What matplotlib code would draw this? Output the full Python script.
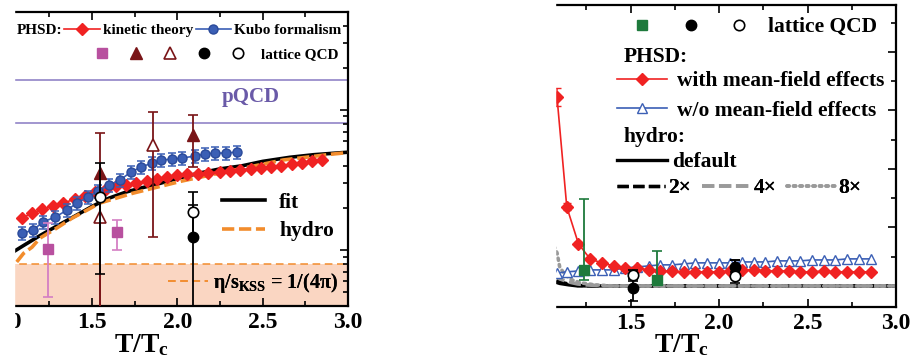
import numpy as np
import matplotlib
matplotlib.use('Agg')
import matplotlib.pyplot as plt
from matplotlib.lines import Line2D
from matplotlib.legend_handler import HandlerTuple
from matplotlib.patches import Rectangle
from matplotlib.ticker import MultipleLocator, LogLocator, NullFormatter

plt.rcParams['font.family'] = ['Liberation Serif', 'DejaVu Serif']
plt.rcParams['font.weight'] = 'bold'
plt.rcParams['mathtext.fontset'] = 'custom'
plt.rcParams['mathtext.rm'] = 'Liberation Serif:bold'
plt.rcParams['mathtext.it'] = 'Liberation Serif:bold:italic'
plt.rcParams['mathtext.bf'] = 'Liberation Serif:bold'

# ---------------- data: left panel (eta/s) ----------------
kin_T = [1.09, 1.15, 1.21, 1.27, 1.33, 1.40, 1.46, 1.52, 1.58, 1.64, 1.70, 1.76, 1.82, 1.88, 1.94,
         2.00, 2.06, 2.12, 2.18, 2.25, 2.31, 2.37, 2.43, 2.49, 2.55, 2.61, 2.67, 2.73, 2.79, 2.85]
kin_eta = [0.169, 0.184, 0.196, 0.206, 0.217, 0.231, 0.243, 0.259, 0.273, 0.286, 0.292, 0.300, 0.310,
           0.320, 0.332, 0.342, 0.347, 0.352, 0.357, 0.363, 0.369, 0.375, 0.381, 0.388, 0.394, 0.400,
           0.410, 0.420, 0.430, 0.440]
kubo_T = [1.091, 1.155, 1.213, 1.284, 1.354, 1.412, 1.477, 1.535, 1.600, 1.664, 1.728, 1.787, 1.851,
          1.904, 1.968, 2.026, 2.102, 2.161, 2.219, 2.284, 2.348]
kubo_eta = [0.132, 0.139, 0.159, 0.172, 0.193, 0.217, 0.239, 0.264, 0.291, 0.316, 0.361, 0.391, 0.418,
            0.439, 0.446, 0.454, 0.469, 0.485, 0.493, 0.493, 0.501]
kubo_relerr = 0.11

fit_T = [1.0, 1.044, 1.1, 1.2, 1.3, 1.4, 1.5, 1.6, 1.7, 1.8, 1.9, 2.0, 2.13, 2.25, 2.38, 2.5, 2.66, 2.8, 3.0]
fit_eta = [0.090, 0.098, 0.108, 0.128, 0.150, 0.175, 0.205, 0.235, 0.260, 0.280, 0.300, 0.325, 0.355,
           0.380, 0.400, 0.430, 0.460, 0.480, 0.500]
hyd_T = [1.0, 1.044, 1.1, 1.149, 1.196, 1.295, 1.383, 1.471, 1.547, 1.74, 2.03, 2.32, 2.62, 2.91, 3.0]
hyd_eta = [0.066, 0.078, 0.095, 0.105, 0.122, 0.144, 0.169, 0.193, 0.217, 0.255, 0.312, 0.370, 0.440,
           0.485, 0.497]

kss = 1.0 / (4.0 * np.pi)
pqcd_lines = [0.81, 1.64]

# lattice QCD (left)
lq_sq_T, lq_sq_v, lq_sq_lo, lq_sq_hi = [1.243, 1.646], [0.102, 0.134], [0.046, 0.100], [0.156, 0.164]
lq_ft_T, lq_ft_v, lq_ft_lo, lq_ft_hi = [1.55, 2.09], [0.355, 0.660], [0.02, 0.39], [0.68, 0.92]
lq_ot_T, lq_ot_v, lq_ot_lo, lq_ot_hi = [1.55, 1.86], [0.172, 0.562], [0.02, 0.124], [0.24, 0.968]
lq_fc_T, lq_fc_v, lq_fc_lo, lq_fc_hi = [2.09], [0.124], [0.02], [0.21]
lq_oc_T, lq_oc_v, lq_oc_lo, lq_oc_hi = [1.55, 2.09], [0.239, 0.187], [0.068, 0.124], [0.418, 0.262]

# ---------------- data: right panel (zeta/s) ----------------
phsd_T = [1.085, 1.14, 1.206, 1.272, 1.338, 1.404, 1.47, 1.536, 1.602, 1.668, 1.734, 1.80, 1.866, 1.932,
          1.998, 2.064, 2.13, 2.196, 2.262, 2.328, 2.394, 2.46, 2.526, 2.592, 2.658, 2.724, 2.79, 2.856]
mf_zeta = [0.161, 0.0675, 0.036, 0.023, 0.0197, 0.0171, 0.0154, 0.0154, 0.0137, 0.0128, 0.0128, 0.012,
           0.012, 0.012, 0.012, 0.0128, 0.0137, 0.0137, 0.0128, 0.0128, 0.0128, 0.012, 0.012, 0.0128,
           0.012, 0.012, 0.012, 0.012]
mf_err = [0.0077, 0.003, 0.0015, 0, 0, 0, 0, 0, 0, 0, 0, 0, 0, 0, 0, 0, 0, 0, 0, 0, 0, 0, 0, 0, 0, 0, 0, 0]
nomf_zeta = [0.0111, 0.012, 0.0128, 0.0137, 0.0137, 0.0137, 0.0154, 0.0162, 0.0171, 0.018, 0.018, 0.0188,
             0.0197, 0.0197, 0.0197, 0.0197, 0.0205, 0.0205, 0.0205, 0.0214, 0.0214, 0.0214, 0.0222,
             0.0222, 0.0222, 0.0231, 0.0231, 0.0231]

h_def_T = [1.0, 1.073, 1.1, 1.15, 1.2, 1.3, 1.6, 2.0, 2.5, 3.0]
h_def_z = [0.006, 0.0034, 0.0021, 0.0009, 0.0, 0.0, 0.0, 0.0, 0.0, 0.0]
h_2x_T = [1.0, 1.073, 1.1, 1.15, 1.2, 1.3, 1.6, 2.0, 2.5, 3.0]
h_2x_z = [0.010, 0.0051, 0.0034, 0.0017, 0.0004, 0.0, 0.0, 0.0, 0.0, 0.0]
h_4x_T = [1.0, 1.073, 1.1, 1.15, 1.2, 1.25, 1.35, 1.6, 2.0, 2.5, 3.0]
h_4x_z = [0.02, 0.0086, 0.006, 0.0034, 0.0017, 0.0009, 0.0, 0.0, 0.0, 0.0, 0.0]
h_8x_T = [1.0, 1.073, 1.085, 1.1, 1.13, 1.17, 1.22, 1.3, 1.4, 1.6, 2.0, 2.5, 3.0]
h_8x_z = [0.06, 0.032, 0.0282, 0.0162, 0.0094, 0.0051, 0.0026, 0.0009, 0.0, 0.0, 0.0, 0.0, 0.0]

lz_sq_T, lz_sq_v, lz_sq_lo, lz_sq_hi = [1.24, 1.65], [0.0137, 0.0051], [0.005, 0.001], [0.0744, 0.030]
lz_fc_T, lz_fc_v, lz_fc_lo, lz_fc_hi = [1.515, 2.09], [-0.0017, 0.016], [-0.0128, 0.012], [0.004, 0.0222]
lz_oc_T, lz_oc_v, lz_oc_lo, lz_oc_hi = [1.515, 2.09], [0.0094, 0.0086], [0.006, 0.0026], [0.0135, 0.0222]

# ---------------- figure ----------------
W, H = 924, 363
fig = plt.figure(figsize=(W / 100, H / 100), dpi=100)


def px_axes(x0, x1, y0, y1):
    return fig.add_axes([x0 / W, 1 - y1 / H, (x1 - x0) / W, (y1 - y0) / H])


RED = '#f02222'
BLUE = '#3b5fb5'
ORANGE = '#f28c2c'
PEACH = '#fad6c2'
MAG = '#b8509f'
MAGBAR = '#d47fc4'
DRED = '#7a1518'
PURP = '#6a5aa8'
PURPL = '#9a8dcc'
GREEN = '#1e7a3c'
GRAY = '#9a9a9a'

TICKFS = 17


def style_axes(ax):
    for s in ax.spines.values():
        s.set_linewidth(1.6)
    ax.spines['left'].set_visible(False)
    ax.tick_params(which='both', direction='in', top=True, right=True, left=False, width=1.2,
                   labelsize=TICKFS, pad=4)
    ax.tick_params(which='major', length=6)
    ax.tick_params(which='minor', length=3.5)
    ax.xaxis.set_major_locator(MultipleLocator(0.5))
    ax.xaxis.set_minor_locator(MultipleLocator(0.25))
    ax.xaxis.set_major_formatter(matplotlib.ticker.FormatStrFormatter('%.1f'))
    ax.tick_params(axis='y', labelleft=False, labelright=False)


def err_pts(ax, T, v, lo, hi, **kw):
    yerr = [[a - b for a, b in zip(v, lo)], [b - a for a, b in zip(v, hi)]]
    return ax.errorbar(T, v, yerr=yerr, ls='none', capsize=3.5, elinewidth=1.3, capthick=1.2, **kw)


# ======== left panel ========
axL = px_axes(6.5, 348, 12, 306)
axL.set_yscale('log')
axL.set_xlim(1.0, 3.0)
axL.set_ylim(0.04, 5.0)
style_axes(axL)
axL.yaxis.set_major_locator(LogLocator(base=10, numticks=10))
axL.yaxis.set_minor_locator(LogLocator(base=10, subs=np.arange(2, 10), numticks=50))
axL.yaxis.set_minor_formatter(NullFormatter())
axL.yaxis.set_major_formatter(NullFormatter())

axL.axhspan(0.01, kss, color=PEACH, lw=0, zorder=0)
axL.axhline(kss, color=ORANGE, lw=1.1, ls=(0, (5, 3)), zorder=1)
for v in pqcd_lines:
    axL.axhline(v, color=PURPL, lw=1.3, zorder=1)
axL.text(2.43, 1.24, 'pQCD', color=PURP, fontsize=15, fontweight='bold', ha='center', va='center')

axL.plot(fit_T, fit_eta, color='black', lw=2.6, zorder=3)
axL.plot(hyd_T, hyd_eta, color=ORANGE, lw=2.6, dashes=(3.4, 1.3), zorder=4)

kin_line, = axL.plot(kin_T, kin_eta, color=RED, lw=1.2, marker='D', ms=6, mec=RED, zorder=5)
kubo_err = [kubo_relerr * v for v in kubo_eta]
axL.errorbar(kubo_T, kubo_eta, yerr=kubo_err, color=BLUE, lw=1.2, marker='o', ms=6.5, mec='#2a4a9a',
             capsize=3, elinewidth=1.1, capthick=1.1, zorder=6)
kubo_line = Line2D([], [], color=BLUE, lw=1.2, marker='o', ms=6.5, mec='#2a4a9a')

err_pts(axL, lq_sq_T, lq_sq_v, lq_sq_lo, lq_sq_hi, marker='s', ms=7, color=MAG, ecolor=MAGBAR, zorder=7)
err_pts(axL, lq_ft_T, lq_ft_v, lq_ft_lo, lq_ft_hi, marker='^', ms=8.5, color=DRED, zorder=7)
err_pts(axL, lq_ot_T, lq_ot_v, lq_ot_lo, lq_ot_hi, marker='^', ms=8.5, color=DRED, mfc='white', mew=1.2, zorder=7)
err_pts(axL, lq_oc_T, lq_oc_v, lq_oc_lo, lq_oc_hi, marker='o', ms=7.5, color='black', mfc='white', mew=1.2, zorder=8)
err_pts(axL, lq_fc_T, lq_fc_v, lq_fc_lo, lq_fc_hi, marker='o', ms=7.5, color='black', zorder=8)

axL.set_xlabel(r'$\mathrm{T/T_c}$', fontsize=20)
axL.xaxis.set_label_coords(0.394, -0.09)


def lx(px):
    return (px - 6.5) / 341.5


def ly(py):
    return (306 - py) / 294


LFS = 11
axL.text(lx(17), ly(30), 'PHSD:', fontsize=LFS, fontweight='bold', ha='left', va='center',
         transform=axL.transAxes)
lg1 = axL.legend([kin_line, kubo_line], ['kinetic theory', 'Kubo formalism'], ncol=2, loc='center left',
                 bbox_to_anchor=(lx(64), ly(30)), frameon=False, fontsize=LFS, handlelength=2.35,
                 handletextpad=0.2, columnspacing=0.15, borderpad=0, borderaxespad=0)
axL.add_artist(lg1)

h_sq = Line2D([], [], ls='none', marker='s', ms=7, color=MAG)
h_ft = Line2D([], [], ls='none', marker='^', ms=8.5, color=DRED)
h_ot = Line2D([], [], ls='none', marker='^', ms=8.5, color=DRED, mfc='white', mew=1.2)
h_fc = Line2D([], [], ls='none', marker='o', ms=7.5, color='black')
h_oc = Line2D([], [], ls='none', marker='o', ms=7.5, color='black', mfc='white', mew=1.2)
lg2 = axL.legend([(h_sq, h_ft, h_ot, h_fc, h_oc)], ['lattice QCD'], loc='center left',
                 bbox_to_anchor=(lx(85), ly(54)), frameon=False, fontsize=LFS, handlelength=11.1,
                 handletextpad=0.45, borderpad=0, borderaxespad=0, numpoints=1,
                 handler_map={tuple: HandlerTuple(ndivide=None, pad=0)})
axL.add_artist(lg2)

FFS = 15.5
h_fit = Line2D([], [], color='black', lw=2.6)
h_hyd = Line2D([], [], color=ORANGE, lw=2.6, dashes=(3.4, 1.3))
lg3 = axL.legend([h_fit, h_hyd], ['fit', 'hydro'], loc='center left', bbox_to_anchor=(lx(222), ly(217)),
                 frameon=False, fontsize=FFS, handlelength=2.0, handletextpad=0.65, labelspacing=0.4,
                 borderpad=0, borderaxespad=0)
axL.add_artist(lg3)

h_kss = Line2D([], [], color=ORANGE, lw=1.1, ls=(0, (5, 3)))
lg4 = axL.legend([h_kss], [r'$\mathrm{\eta/s_{KSS}}$ = 1/(4$\mathrm{\pi}$)'], loc='center left',
                 bbox_to_anchor=(lx(168), ly(283)), frameon=False, fontsize=14.5, handlelength=2.0,
                 handletextpad=0.25, borderpad=0, borderaxespad=0)
axL.add_artist(lg4)

# ======== right panel ========
axR = px_axes(542, 896, 5, 307)
axR.set_xlim(1.0, 3.0)
axR.set_ylim(-0.018, 0.240)
style_axes(axR)
axR.yaxis.set_major_locator(MultipleLocator(0.05))
axR.yaxis.set_minor_locator(MultipleLocator(0.025))

axR.plot(h_def_T, h_def_z, color='black', lw=2.4, zorder=2)
axR.plot(h_2x_T, h_2x_z, color='black', lw=2.4, dashes=(3.4, 1.3), zorder=2)
axR.plot(h_4x_T, h_4x_z, color=GRAY, lw=2.6, dashes=(3.4, 1.3), zorder=2)
axR.plot(h_8x_T, h_8x_z, color=GRAY, lw=2.6, ls=(0, (0.6, 1.2)), dash_capstyle='round', zorder=2)

axR.errorbar(phsd_T, mf_zeta, yerr=mf_err, color=RED, lw=1.2, marker='D', ms=6.5, capsize=3,
             elinewidth=1.1, zorder=5)
axR.plot(phsd_T, nomf_zeta, color=BLUE, lw=1.2, marker='^', ms=7.5, mfc='white', mew=1.0, zorder=4)

err_pts(axR, lz_sq_T, lz_sq_v, lz_sq_lo, lz_sq_hi, marker='s', ms=7, color=GREEN, zorder=7)
err_pts(axR, lz_fc_T, lz_fc_v, lz_fc_lo, lz_fc_hi, marker='o', ms=7.5, color='black', zorder=7)
err_pts(axR, lz_oc_T, lz_oc_v, lz_oc_lo, lz_oc_hi, marker='o', ms=7.5, color='black', mfc='white',
        mew=1.2, zorder=8)

axR.set_xlabel(r'$\mathrm{T/T_c}$', fontsize=20)
axR.xaxis.set_label_coords(0.395, -0.085)


def rx(px):
    return (px - 542) / 354


def ry(py):
    return (307 - py) / 302


RFS = 15.5
g_sq = Line2D([], [], ls='none', marker='s', ms=6.5, color=GREEN)
g_fc = Line2D([], [], ls='none', marker='o', ms=7.5, color='black')
g_oc = Line2D([], [], ls='none', marker='o', ms=7.5, color='black', mfc='white', mew=1.2)
r1 = axR.legend([(g_sq, g_fc, g_oc)], ['lattice QCD'], loc='center left', bbox_to_anchor=(rx(618), ry(27)),
                frameon=False, fontsize=RFS, handlelength=6.77, handletextpad=0.2, borderpad=0,
                borderaxespad=0, numpoints=1, handler_map={tuple: HandlerTuple(ndivide=None, pad=0)})
axR.add_artist(r1)

axR.text(rx(624), ry(57), 'PHSD:', fontsize=RFS, fontweight='bold', ha='left', va='center',
         transform=axR.transAxes)
h_mf = Line2D([], [], color=RED, lw=1.2, marker='D', ms=6.5)
h_nomf = Line2D([], [], color=BLUE, lw=1.2, marker='^', ms=7.5, mfc='white', mew=1.0)
r2 = axR.legend([h_mf, h_nomf], ['with mean-field effects', 'w/o mean-field effects'], loc='center left',
                bbox_to_anchor=(rx(617), ry(96)), frameon=False, fontsize=RFS, handlelength=2.33,
                handletextpad=0.47, labelspacing=0.45, borderpad=0, borderaxespad=0)
axR.add_artist(r2)

axR.text(rx(624), ry(137), 'hydro:', fontsize=RFS, fontweight='bold', ha='left', va='center',
         transform=axR.transAxes)
h_def = Line2D([], [], color='black', lw=2.4)
r3 = axR.legend([h_def], ['default'], loc='center left', bbox_to_anchor=(rx(617), ry(162)), frameon=False,
                fontsize=RFS, handlelength=2.33, handletextpad=0.23, borderpad=0, borderaxespad=0)
axR.add_artist(r3)

h_2x = Line2D([], [], color='black', lw=2.4, dashes=(3.4, 1.3))
h_4x = Line2D([], [], color=GRAY, lw=2.6, dashes=(3.4, 1.3))
h_8x = Line2D([], [], color=GRAY, lw=2.6, ls=(0, (0.6, 1.2)), dash_capstyle='round')
r4 = axR.legend([h_2x, h_4x, h_8x], ['2×', '4×', '8×'], ncol=3, loc='center left',
                bbox_to_anchor=(rx(617), ry(188)), frameon=False, fontsize=RFS, handlelength=2.25,
                handletextpad=0.14, columnspacing=0.5, borderpad=0, borderaxespad=0)
axR.add_artist(r4)

# white masks reproducing the cropped left edges of both panels
fig.add_artist(Rectangle((0, 0), 13.5 / W, 1, transform=fig.transFigure, color='white', zorder=100))
fig.add_artist(Rectangle((440 / W, 0), 115 / W, 1, transform=fig.transFigure, color='white', zorder=100))

fig.savefig('out.png', dpi=100)
